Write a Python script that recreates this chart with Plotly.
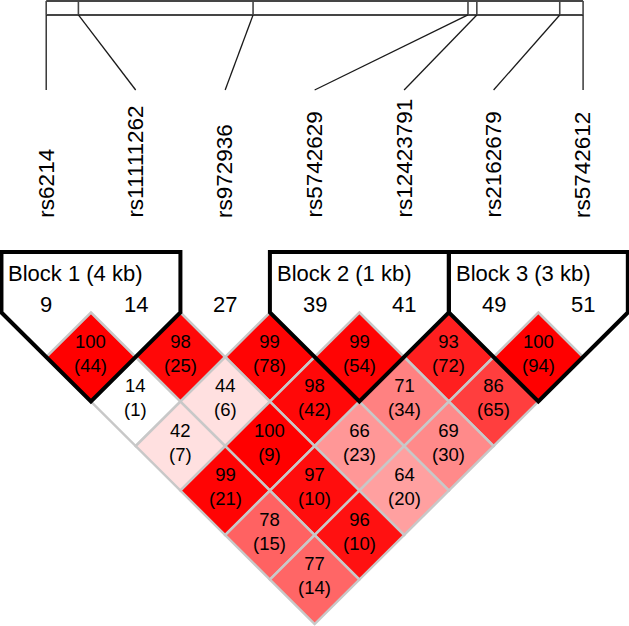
import plotly.graph_objects as go

# ---------------- data ----------------
markers = ["rs6214", "rs11111262", "rs972936", "rs5742629",
           "rs12423791", "rs2162679", "rs5742612"]
marker_numbers = ["9", "14", "27", "39", "41", "49", "51"]
positions_kb = [0.0, 4.0, 25.7, 52.4, 53.5, 63.8, 66.7]

# D' (x100) by marker distance (row 1 = adjacent pairs)
dprime_rows = [
    [100, 98, 99, 99, 93, 100],
    [14, 44, 98, 71, 86],
    [42, 100, 66, 69],
    [99, 97, 64],
    [78, 96],
    [77],
]
# r^2 (x100) shown in brackets
r2_rows = [
    [44, 25, 78, 54, 72, 94],
    [1, 6, 42, 34, 65],
    [7, 9, 23, 30],
    [21, 10, 20],
    [15, 10],
    [14],
]
# LOD >= 2 (from cell shading: white = not significant)
lod_sig_rows = [
    [True, True, True, True, True, True],
    [False, True, True, True, True],
    [True, True, True, True],
    [True, True, True],
    [True, True],
    [True],
]

block_first = [0, 3, 5]
block_last = [1, 4, 6]
block_labels = ["Block 1 (4 kb)", "Block 2 (1 kb)", "Block 3 (3 kb)"]

# ---------------- styling / layout constants ----------------
W, H = 629, 626
FONT = "Liberation Sans, Arial, Helvetica, sans-serif"
GRID_GRAY = "#c8c8c8"
BAR_COLOR = "#454545"

X_RANGE = [-0.5163, 6.5132]
Y_RANGE = [3.522, -3.511]          # reversed: y grows downward

BAR_TOP = -3.500
BAR_BOTTOM = -3.343
CONNECT_END = -2.50
LABEL_BASE = -1.04
BLOCK_TOP = -0.68
BLOCK_TEXT_Y = -0.433
NUMBER_Y = -0.09


def ld_color(d, sig):
    d = d / 100.0
    if sig:
        if d < 0.5:
            return "rgb(255,224,224)"
        v = int(223 * 2 * (1 - d))
        return f"rgb(255,{v},{v})"
    if d > 0.99:
        return "rgb(192,192,240)"
    return "rgb(255,255,255)"


fig = go.Figure()
shapes = []
annotations = []

n = len(markers)
pos0, pos1 = positions_kb[0], positions_kb[-1]

# ---- physical position bar ----
shapes.append(dict(type="line", xref="x", yref="y", x0=0, x1=n - 1,
                   y0=BAR_TOP, y1=BAR_TOP, line=dict(color=BAR_COLOR, width=2)))
shapes.append(dict(type="line", xref="x", yref="y", x0=0, x1=n - 1,
                   y0=BAR_BOTTOM, y1=BAR_BOTTOM, line=dict(color=BAR_COLOR, width=2)))
for k, p in enumerate(positions_kb):
    xb = (n - 1) * (p - pos0) / (pos1 - pos0)
    shapes.append(dict(type="line", xref="x", yref="y", x0=xb, x1=xb,
                       y0=BAR_TOP, y1=BAR_BOTTOM,
                       line=dict(color=BAR_COLOR, width=1.6)))
    shapes.append(dict(type="line", xref="x", yref="y", x0=xb, x1=k,
                       y0=BAR_BOTTOM, y1=CONNECT_END,
                       line=dict(color="#1a1a1a", width=1.3)))

# ---- marker names ----
for k, name in enumerate(markers):
    annotations.append(dict(x=k, y=LABEL_BASE, xref="x", yref="y", text=name,
                            showarrow=False, textangle=-90,
                            xanchor="center", yanchor="bottom",
                            font=dict(family=FONT, size=22.5, color="black")))
    annotations.append(dict(x=k, y=NUMBER_Y, xref="x", yref="y",
                            text=marker_numbers[k], showarrow=False,
                            xanchor="center", yanchor="middle",
                            font=dict(family=FONT, size=22, color="black")))

# ---- LD cells ----
for r, row in enumerate(dprime_rows):
    dist = r + 1
    for i, d in enumerate(row):
        j = i + dist
        cx = (i + j) / 2.0
        cy = dist / 2.0
        path = (f"M {cx} {cy - 0.5} L {cx + 0.5} {cy} "
                f"L {cx} {cy + 0.5} L {cx - 0.5} {cy} Z")
        shapes.append(dict(type="path", xref="x", yref="y", path=path,
                           fillcolor=ld_color(d, lod_sig_rows[r][i]),
                           line=dict(color=GRID_GRAY, width=2.5)))
        annotations.append(dict(x=cx, y=cy, xref="x", yref="y",
                                text=f"{d}<br>({r2_rows[r][i]})",
                                showarrow=False, yshift=4,
                                xanchor="center", yanchor="middle",
                                font=dict(family=FONT, size=18.5, color="black")))

# ---- haplotype blocks ----
for b in range(len(block_first)):
    i, j = block_first[b], block_last[b]
    left, right = i - 0.5, j + 0.5
    bx = (i + j) / 2.0
    by = (j - i) / 2.0 + 0.5
    path = (f"M {left} {BLOCK_TOP} L {right} {BLOCK_TOP} L {right} 0 "
            f"L {bx} {by} L {left} 0 Z")
    shapes.append(dict(type="path", xref="x", yref="y", path=path,
                       fillcolor="rgba(0,0,0,0)",
                       line=dict(color="black", width=4)))
    annotations.append(dict(x=left, y=BLOCK_TEXT_Y, xref="x", yref="y",
                            text=block_labels[b], showarrow=False,
                            xanchor="left", yanchor="middle", xshift=5,
                            font=dict(family=FONT, size=22, color="black")))

fig.update_layout(
    width=W, height=H,
    margin=dict(l=0, r=0, t=0, b=0),
    paper_bgcolor="white", plot_bgcolor="white",
    shapes=shapes, annotations=annotations,
    showlegend=False,
    xaxis=dict(range=X_RANGE, visible=False, fixedrange=True),
    yaxis=dict(range=Y_RANGE, visible=False, fixedrange=True),
)

fig.write_html("out.html", config={"displayModeBar": False},
               post_script="document.body.style.margin='0';"
                           "document.body.style.overflow='hidden';")
